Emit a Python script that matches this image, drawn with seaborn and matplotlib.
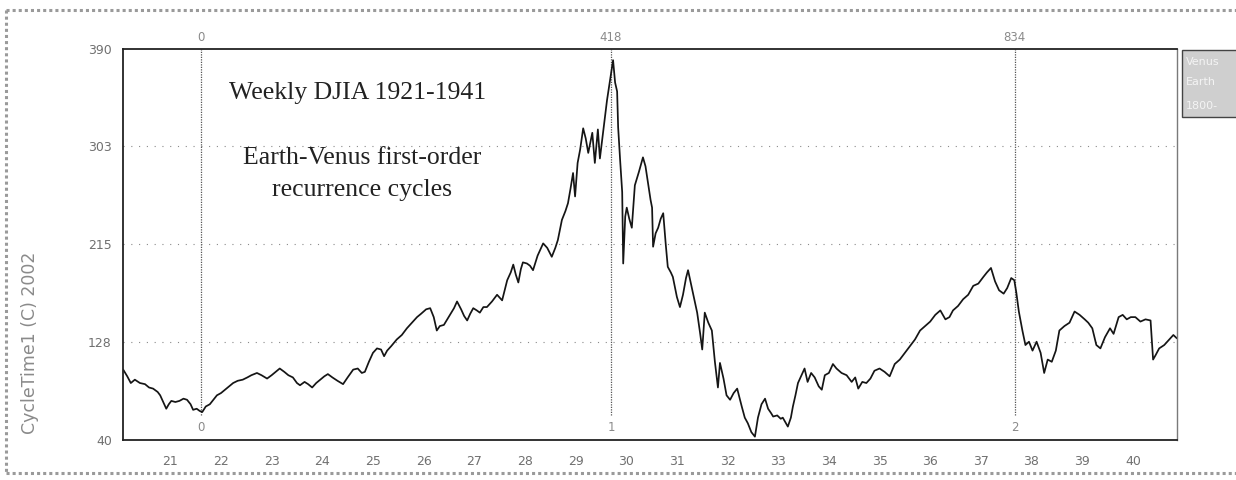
import matplotlib
matplotlib.use("Agg")
import matplotlib.pyplot as plt
import matplotlib.transforms as mtransforms
from matplotlib.lines import Line2D
from matplotlib.patches import Rectangle
import seaborn as sns
import pandas as pd

# Weekly DJIA, sampled points (time in decimal years, closing level)
time_years = [
    1920.07, 1920.15, 1920.22, 1920.30, 1920.40, 1920.50, 1920.58, 1920.66, 1920.75, 1920.80,
    1920.86, 1920.92, 1920.97, 1921.02, 1921.10, 1921.18, 1921.26, 1921.33, 1921.40, 1921.45,
    1921.52, 1921.58, 1921.63, 1921.70, 1921.78, 1921.85, 1921.92, 1922.00, 1922.08, 1922.16,
    1922.24, 1922.33, 1922.43, 1922.52, 1922.60, 1922.71, 1922.80, 1922.91, 1923.00, 1923.08,
    1923.16, 1923.25, 1923.33, 1923.42, 1923.50, 1923.56, 1923.65, 1923.72, 1923.80, 1923.88,
    1923.96, 1924.04, 1924.11, 1924.20, 1924.30, 1924.41, 1924.50, 1924.61, 1924.70, 1924.78,
    1924.84, 1924.92, 1925.00, 1925.08, 1925.16, 1925.22, 1925.28, 1925.36, 1925.47, 1925.57,
    1925.67, 1925.77, 1925.87, 1925.95, 1926.05, 1926.13, 1926.20, 1926.26, 1926.32, 1926.40,
    1926.52, 1926.60, 1926.66, 1926.74, 1926.80, 1926.86, 1926.92, 1926.98, 1927.05, 1927.11,
    1927.18, 1927.25, 1927.35, 1927.45, 1927.55, 1927.60, 1927.65, 1927.72, 1927.77, 1927.82,
    1927.87, 1927.92, 1927.96, 1928.04, 1928.10, 1928.16, 1928.25, 1928.36, 1928.44, 1928.53,
    1928.60, 1928.65, 1928.70, 1928.73, 1928.80, 1928.85, 1928.90, 1928.95, 1928.99, 1929.04,
    1929.09, 1929.15, 1929.20, 1929.25, 1929.33, 1929.38, 1929.44, 1929.48, 1929.55, 1929.62,
    1929.68, 1929.74, 1929.78, 1929.82, 1929.84, 1929.88, 1929.92, 1929.94, 1929.98, 1930.01,
    1930.06, 1930.11, 1930.17, 1930.25, 1930.33, 1930.38, 1930.43, 1930.48, 1930.51, 1930.53,
    1930.58, 1930.63, 1930.68, 1930.73, 1930.78, 1930.82, 1930.88, 1930.92, 1931.00, 1931.06,
    1931.12, 1931.18, 1931.22, 1931.30, 1931.40, 1931.46, 1931.50, 1931.55, 1931.62, 1931.69,
    1931.75, 1931.81, 1931.85, 1931.92, 1931.98, 1932.05, 1932.12, 1932.19, 1932.28, 1932.34,
    1932.40, 1932.47, 1932.54, 1932.60, 1932.67, 1932.74, 1932.80, 1932.86, 1932.90, 1932.98,
    1933.05, 1933.09, 1933.19, 1933.25, 1933.29, 1933.34, 1933.39, 1933.45, 1933.52, 1933.58,
    1933.65, 1933.72, 1933.80, 1933.86, 1933.92, 1934.00, 1934.08, 1934.15, 1934.25, 1934.35,
    1934.45, 1934.52, 1934.58, 1934.66, 1934.74, 1934.82, 1934.90, 1935.00, 1935.10, 1935.20,
    1935.30, 1935.40, 1935.50, 1935.60, 1935.70, 1935.80, 1935.90, 1936.00, 1936.10, 1936.20,
    1936.30, 1936.38, 1936.45, 1936.55, 1936.65, 1936.75, 1936.85, 1936.95, 1937.05, 1937.12,
    1937.20, 1937.28, 1937.36, 1937.45, 1937.52, 1937.60, 1937.66, 1937.70, 1937.75, 1937.82,
    1937.88, 1937.95, 1938.02, 1938.10, 1938.18, 1938.25, 1938.32, 1938.40, 1938.48, 1938.55,
    1938.65, 1938.75, 1938.85, 1938.95, 1939.05, 1939.12, 1939.20, 1939.28, 1939.36, 1939.45,
    1939.55, 1939.62, 1939.72, 1939.80, 1939.88, 1939.96, 1940.05, 1940.15, 1940.25, 1940.35,
    1940.40, 1940.45, 1940.52, 1940.62, 1940.72, 1940.80, 1940.87,
]
djia_close = [
    103, 97, 91, 94, 91, 90, 87, 86, 83, 80,
    74, 68, 72, 75, 74, 75, 77, 76, 72, 67,
    68, 66, 65, 70, 72, 76, 80, 82, 85, 88,
    91, 93, 94, 96, 98, 100, 98, 95, 98, 101,
    104, 101, 98, 96, 91, 89, 92, 90, 87, 91,
    94, 97, 99, 96, 93, 90, 96, 103, 104, 100,
    101, 110, 118, 122, 121, 115, 120, 124, 130, 134,
    140, 145, 150, 153, 157, 158, 150, 138, 142, 143,
    152, 158, 164, 157, 151, 147, 153, 158, 156, 154,
    159, 159, 164, 170, 165, 174, 183, 190, 197, 188,
    181, 193, 199, 198, 196, 192, 205, 216, 212, 204,
    212, 219, 230, 237, 245, 252, 265, 279, 258, 288,
    300, 319, 310, 297, 315, 288, 318, 292, 318, 344,
    362, 380, 360, 352, 320, 290, 262, 198, 240, 248,
    238, 230, 268, 280, 293, 285, 270, 255, 248, 213,
    225, 230, 238, 243, 215, 195, 190, 186, 168, 159,
    170, 185, 192, 175, 154, 135, 121, 154, 145, 138,
    110, 87, 109, 95, 80, 76, 82, 86, 70, 60,
    55, 47, 43, 60, 72, 77, 68, 64, 61, 62,
    59, 60, 52, 60, 70, 80, 91, 97, 104, 92,
    100, 96, 88, 85, 98, 100, 108, 104, 100, 98,
    92, 96, 86, 92, 91, 95, 102, 104, 101, 97,
    108, 112, 118, 124, 130, 138, 142, 146, 152, 156,
    148, 150, 156, 160, 166, 170, 178, 180, 186, 190,
    194, 182, 174, 171, 176, 185, 183, 172, 155, 138,
    125, 128, 120, 128, 118, 100, 112, 110, 120, 138,
    142, 145, 155, 152, 148, 145, 140, 125, 122, 132,
    140, 135, 150, 152, 148, 150, 150, 146, 148, 147,
    112, 116, 122, 125, 130, 134, 131,
]

# Earth-Venus first-order recurrence markers
cycle_times = [1921.61, 1929.70, 1937.67]
cycle_top_labels = ["0", "418", "834"]
cycle_bottom_labels = ["0", "1", "2"]

y_ticks = [40, 128, 215, 303, 390]
x_years = list(range(1921, 1941))
x_labels = [str(y)[2:] for y in x_years]

legend_lines = ["Venus", "Earth", "1800-"]

W, H = 1236, 480
sns.set_style("white")
plt.rcParams["font.family"] = ["DejaVu Sans"]

fig = plt.figure(figsize=(W / 100, H / 100), dpi=100)
fig.patch.set_facecolor("white")
ax = fig.add_axes([123 / W, 1 - 440 / H, (1177 - 123) / W, (440 - 49) / H])

df = pd.DataFrame({"t": time_years, "djia": djia_close})
sns.lineplot(data=df, x="t", y="djia", ax=ax, color="#151515", linewidth=1.25,
             estimator=None, sort=False)

ax.set_xlim(1920.066, 1940.872)
ax.set_ylim(40, 390)
ax.set_xlabel("")
ax.set_ylabel("")

ax.set_yticks(y_ticks)
ax.set_yticklabels([str(v) for v in y_ticks])
ax.set_xticks(x_years)
ax.set_xticklabels(x_labels)
tick_gray = "#707070"
ax.tick_params(axis="x", length=0, pad=11, labelsize=9, labelcolor=tick_gray)
ax.tick_params(axis="y", length=7, width=1.0, color="#333333", pad=1,
               labelsize=9, labelcolor=tick_gray)

# dotted horizontal guides
for v in y_ticks[1:-1]:
    ax.axhline(v, color="#8a8a8a", linewidth=0.8, linestyle=(0, (1, 6)), zorder=0)

for side in ["left", "top", "bottom"]:
    ax.spines[side].set_color("#222222")
    ax.spines[side].set_linewidth(1.3)
ax.spines["right"].set_color("#7a7a7a")
ax.spines["right"].set_linewidth(1.0)

# cycle marker lines with labels
blend = mtransforms.blended_transform_factory(ax.transData, ax.transAxes)
for t, top_lab, bot_lab in zip(cycle_times, cycle_top_labels, cycle_bottom_labels):
    ax.plot([t, t], [0.063, 1.0], transform=blend, color="#555555",
            linewidth=0.9, linestyle=(0, (1, 1)), zorder=1)
    ax.text(t, 1.012, top_lab, transform=blend, ha="center", va="bottom",
            fontsize=8.5, color="#8a8a8a")
    ax.text(t, 0.033, bot_lab, transform=blend, ha="center", va="center",
            fontsize=8.5, color="#8a8a8a")

# annotation
serif = ["Liberation Serif", "DejaVu Serif"]
fig.text(358 / W, 1 - 93 / H, "Weekly DJIA 1921-1941", family=serif,
         fontsize=18.5, color="#222222", ha="center", va="center")
fig.text(362 / W, 1 - 158 / H, "Earth-Venus first-order", family=serif,
         fontsize=18.5, color="#222222", ha="center", va="center")
fig.text(362 / W, 1 - 190 / H, "recurrence cycles", family=serif,
         fontsize=18.5, color="#222222", ha="center", va="center")

# vertical axis caption
fig.text(30 / W, 1 - 343 / H, "CycleTime1 (C) 2002", rotation=90,
         fontsize=12.5, color="#8a8a8a", ha="center", va="center")

# legend tab at the right edge
fig.patches.append(Rectangle((1182 / W, 1 - 117 / H), 80 / W, 67 / H,
                             transform=fig.transFigure, facecolor="#cfcfcf",
                             edgecolor="#444444", linewidth=1.0))
for yy, s in zip([62, 82, 106], legend_lines):
    fig.text(1186 / W, 1 - yy / H, s, fontsize=8, color="#f4f4f4",
             ha="left", va="center")

# outer frame
frame_kw = dict(transform=fig.transFigure, color="#9a9a9a", linewidth=2.2,
                linestyle=(0, (1, 1)))
fig.lines.append(Line2D([6 / W, 1.0], [1 - 10 / H, 1 - 10 / H], **frame_kw))
fig.lines.append(Line2D([6 / W, 6 / W], [1 - 10 / H, 1 - 473 / H], **frame_kw))
fig.lines.append(Line2D([6 / W, 1.0], [1 - 473 / H, 1 - 473 / H], **frame_kw))

fig.savefig("out.png", dpi=100, facecolor="white")
